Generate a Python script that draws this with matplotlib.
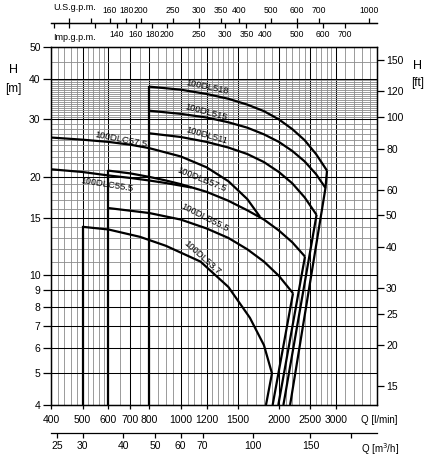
import matplotlib
matplotlib.use('Agg')
import matplotlib.pyplot as plt
from matplotlib.ticker import FixedLocator, FixedFormatter, NullLocator, NullFormatter

plt.rcParams['font.family'] = ['Liberation Sans', 'DejaVu Sans']

# pump curves, Q in l/min, H in m
q_dl518 = [800, 1000, 1200, 1400, 1600, 1800, 2000, 2200, 2400, 2600, 2810]
h_dl518 = [37.8, 37.0, 35.9, 34.7, 33.3, 31.8, 30.0, 28.0, 25.9, 23.5, 20.9]
q_dl515 = [800, 1000, 1200, 1400, 1600, 1800, 2000, 2200, 2400, 2600, 2780]
h_dl515 = [31.9, 31.2, 30.4, 29.4, 28.3, 27.0, 25.6, 24.0, 22.3, 20.4, 18.5]
q_dl511 = [800, 1000, 1200, 1400, 1600, 1800, 2000, 2200, 2400, 2610]
h_dl511 = [27.2, 26.5, 25.6, 24.6, 23.5, 22.2, 20.7, 19.1, 17.3, 15.3]
q_dlc575 = [380, 400, 500, 600, 700, 800, 1000, 1200, 1400, 1600, 1750]
h_dlc575 = [26.5, 26.4, 26.0, 25.6, 25.1, 24.5, 23.1, 21.4, 19.4, 17.1, 15.1]
q_dlb575 = [600, 700, 800, 900, 1000, 1200, 1400, 1600, 1800, 2000, 2200, 2405]
h_dlb575 = [20.9, 20.5, 20.0, 19.5, 19.0, 18.0, 16.9, 15.8, 14.8, 13.7, 12.6, 11.4]
q_dlc555 = [380, 400, 500, 600, 700, 800, 900, 1000, 1080]
h_dlc555 = [21.2, 21.1, 20.7, 20.2, 19.85, 19.5, 19.15, 18.8, 18.55]
q_dlb555 = [600, 800, 1000, 1200, 1400, 1600, 1800, 2000, 2210]
h_dlb555 = [16.05, 15.5, 14.8, 13.9, 13.0, 12.0, 11.0, 9.95, 8.8]
q_dl537 = [500, 600, 750, 900, 1150, 1400, 1630, 1800, 1905]
h_dl537 = [14.06, 13.8, 13.1, 12.3, 11.0, 9.2, 7.4, 6.1, 5.0]

# end lines down to the bottom
q_end518 = [2810, 2780, 2165]
h_end518 = [20.9, 18.5, 4]
q_end511 = [2610, 2065]
h_end511 = [15.3, 4]
q_end575 = [2405, 1992]
h_end575 = [11.4, 4]
q_end555 = [2210, 1914]
h_end555 = [8.8, 4]
q_end537 = [1905, 1826]
h_end537 = [5.0, 4]

# minimum flow lines
q_min = [500, 600, 800]
h_min = [14.06, 20.9, 37.8]

names = ['100DL518', '100DL515', '100DL511', '100DLC57.5', '100DLC55.5',
         '100DLB57.5', '100DLB55.5', '100DL53.7']

q_ticks = [400, 500, 600, 700, 800, 1000, 1200, 1500, 2000, 2500, 3000]
q_minor = [420, 440, 460, 480, 520, 540, 560, 580, 650, 750, 850, 900, 950,
           1050, 1100, 1150, 1250, 1300, 1350, 1400, 1450, 1600, 1700, 1800,
           1900, 2100, 2200, 2300, 2400, 2600, 2700, 2800, 2900, 3200, 3400,
           3600, 3800]
h_ticks = [4, 5, 6, 7, 8, 9, 10, 15, 20, 30, 40, 50]
h_minor = [11, 12, 13, 14, 16, 17, 18, 19, 21, 22, 23, 24, 25, 26, 27, 28, 29,
           30.5, 31, 31.5, 32, 32.5, 33, 33.5, 34, 34.5, 35, 35.5, 36, 36.5,
           37, 37.5, 38, 38.5, 39, 39.5, 45]
ft_ticks = [15, 20, 25, 30, 40, 50, 60, 80, 100, 120, 150]
us_ticks = [120, 140, 160, 180, 200, 250, 300, 350, 400, 500, 600, 700, 1000]
us_labels = ['', '', '160', '180', '200', '250', '300', '350', '400', '500',
             '600', '700', '1000']
imp_ticks = [90, 100, 120, 140, 160, 180, 200, 250, 300, 350, 400, 500, 600, 700]
imp_labels = ['', '', '', '140', '160', '180', '200', '250', '300', '350',
              '400', '500', '600', '700']
m3_ticks = [25, 30, 40, 50, 60, 70, 100, 150, 200]
m3_labels = ['25', '30', '40', '50', '60', '70', '100', '150', '']

W, H = 430, 458
L, R, T, B = 51, 377, 47, 405


def fx(px):
    return px / W


def fy(py):
    return 1 - py / H


def scale_axes(y, lo, hi, ticks, labels, side, size):
    a = fig.add_axes([fx(L), fy(y), (R - L) / W, 1e-5])
    a.set_xscale('log')
    a.set_xlim(lo, hi)
    a.set_yticks([])
    for s in ['left', 'right']:
        a.spines[s].set_visible(False)
    a.spines['top' if side == 'bottom' else 'bottom'].set_visible(False)
    a.spines[side].set_linewidth(0.9)
    a.set_facecolor('none')
    if side == 'top':
        a.xaxis.tick_top()
    else:
        a.xaxis.tick_bottom()
    a.xaxis.set_major_locator(FixedLocator(ticks))
    a.xaxis.set_major_formatter(FixedFormatter(labels))
    a.xaxis.set_minor_locator(NullLocator())
    a.tick_params(axis='x', direction='out', length=3.5, width=0.9,
                  labelsize=size, pad=2)
    return a


fig = plt.figure(figsize=(W / 100, H / 100), dpi=100)
ax = fig.add_axes([fx(L), fy(B), (R - L) / W, (B - T) / H])
ax.set_xscale('log')
ax.set_yscale('log')
ax.set_xlim(400, 4000)
ax.set_ylim(4, 50)

ax.xaxis.set_major_locator(FixedLocator(q_ticks))
ax.xaxis.set_major_formatter(FixedFormatter([str(v) for v in q_ticks]))
ax.xaxis.set_minor_locator(FixedLocator(q_minor))
ax.xaxis.set_minor_formatter(NullFormatter())
ax.yaxis.set_major_locator(FixedLocator(h_ticks))
ax.yaxis.set_major_formatter(FixedFormatter([str(v) for v in h_ticks]))
ax.yaxis.set_minor_locator(FixedLocator(h_minor))
ax.yaxis.set_minor_formatter(NullFormatter())
ax.tick_params(axis='x', which='major', direction='out', length=3, width=0.9,
               labelsize=7.5, pad=4)
ax.tick_params(axis='y', which='major', direction='out', length=6, width=0.9,
               labelsize=7.5, pad=1.5)
ax.tick_params(which='minor', length=0)
ax.grid(which='major', color='black', lw=0.75)
ax.grid(which='minor', color='#8a8a8a', lw=0.6)
ax.set_axisbelow(True)
for s in ax.spines.values():
    s.set_linewidth(1.0)

curves = [(q_dl518, h_dl518), (q_dl515, h_dl515), (q_dl511, h_dl511),
          (q_dlc575, h_dlc575), (q_dlc555, h_dlc555), (q_dlb575, h_dlb575),
          (q_dlb555, h_dlb555), (q_dl537, h_dl537),
          (q_end518, h_end518), (q_end511, h_end511), (q_end575, h_end575),
          (q_end555, h_end555), (q_end537, h_end537)]
for q, h in curves:
    ax.plot(q, h, color='black', lw=1.6, solid_joinstyle='round',
            solid_capstyle='butt')
for q, h in zip(q_min, h_min):
    ax.plot([q, q], [h, 4], color='black', lw=1.6)

# label anchors (Q, H, rotation)
spots = [(1204, 37.6, -12), (1195, 31.5, -15), (1204, 26.8, -16),
         (656, 26.1, -11), (594, 18.9, -9), (1160, 19.6, -22),
         (1187, 15.0, -27), (1162, 11.3, -42)]
for name, (q, h, rot) in zip(names, spots):
    ax.text(q, h, name, rotation=rot, rotation_mode='anchor', ha='center',
            va='center', fontsize=6.8)

ax2 = ax.twinx()
ax2.set_yscale('log')
ax2.set_ylim(4 / 0.3048, 50 / 0.3048)
ax2.yaxis.set_major_locator(FixedLocator(ft_ticks))
ax2.yaxis.set_major_formatter(FixedFormatter([str(v) for v in ft_ticks]))
ax2.yaxis.set_minor_locator(NullLocator())
ax2.tick_params(axis='y', direction='out', length=5, width=0.9,
                labelsize=7.5, pad=1.5)

scale_axes(22.7, 400 / 3.785, 4000 / 3.785, us_ticks, us_labels, 'top', 6.2)
scale_axes(22.7, 400 / 4.546, 4000 / 4.546, imp_ticks, imp_labels, 'bottom', 6.2)
scale_axes(433, 400 / 16.667, 4000 / 16.667, m3_ticks, m3_labels, 'bottom', 7.5)

fig.text(fx(53), fy(7), 'U.S.g.p.m.', fontsize=6.5, va='center')
fig.text(fx(53), fy(37), 'Imp.g.p.m.', fontsize=6.5, va='center')
fig.text(fx(13), fy(70), 'H', fontsize=9, ha='center', va='center')
fig.text(fx(13), fy(89), '[m]', fontsize=8.5, ha='center', va='center')
fig.text(fx(418), fy(66), 'H', fontsize=9, ha='center', va='center')
fig.text(fx(418), fy(83), '[ft]', fontsize=8.5, ha='center', va='center')
fig.text(fx(379), fy(420), 'Q [l/min]', fontsize=7, ha='center', va='center')
fig.text(fx(380), fy(449), 'Q [m$^3$/h]', fontsize=7, ha='center', va='center')

fig.savefig('out.png', dpi=100)
